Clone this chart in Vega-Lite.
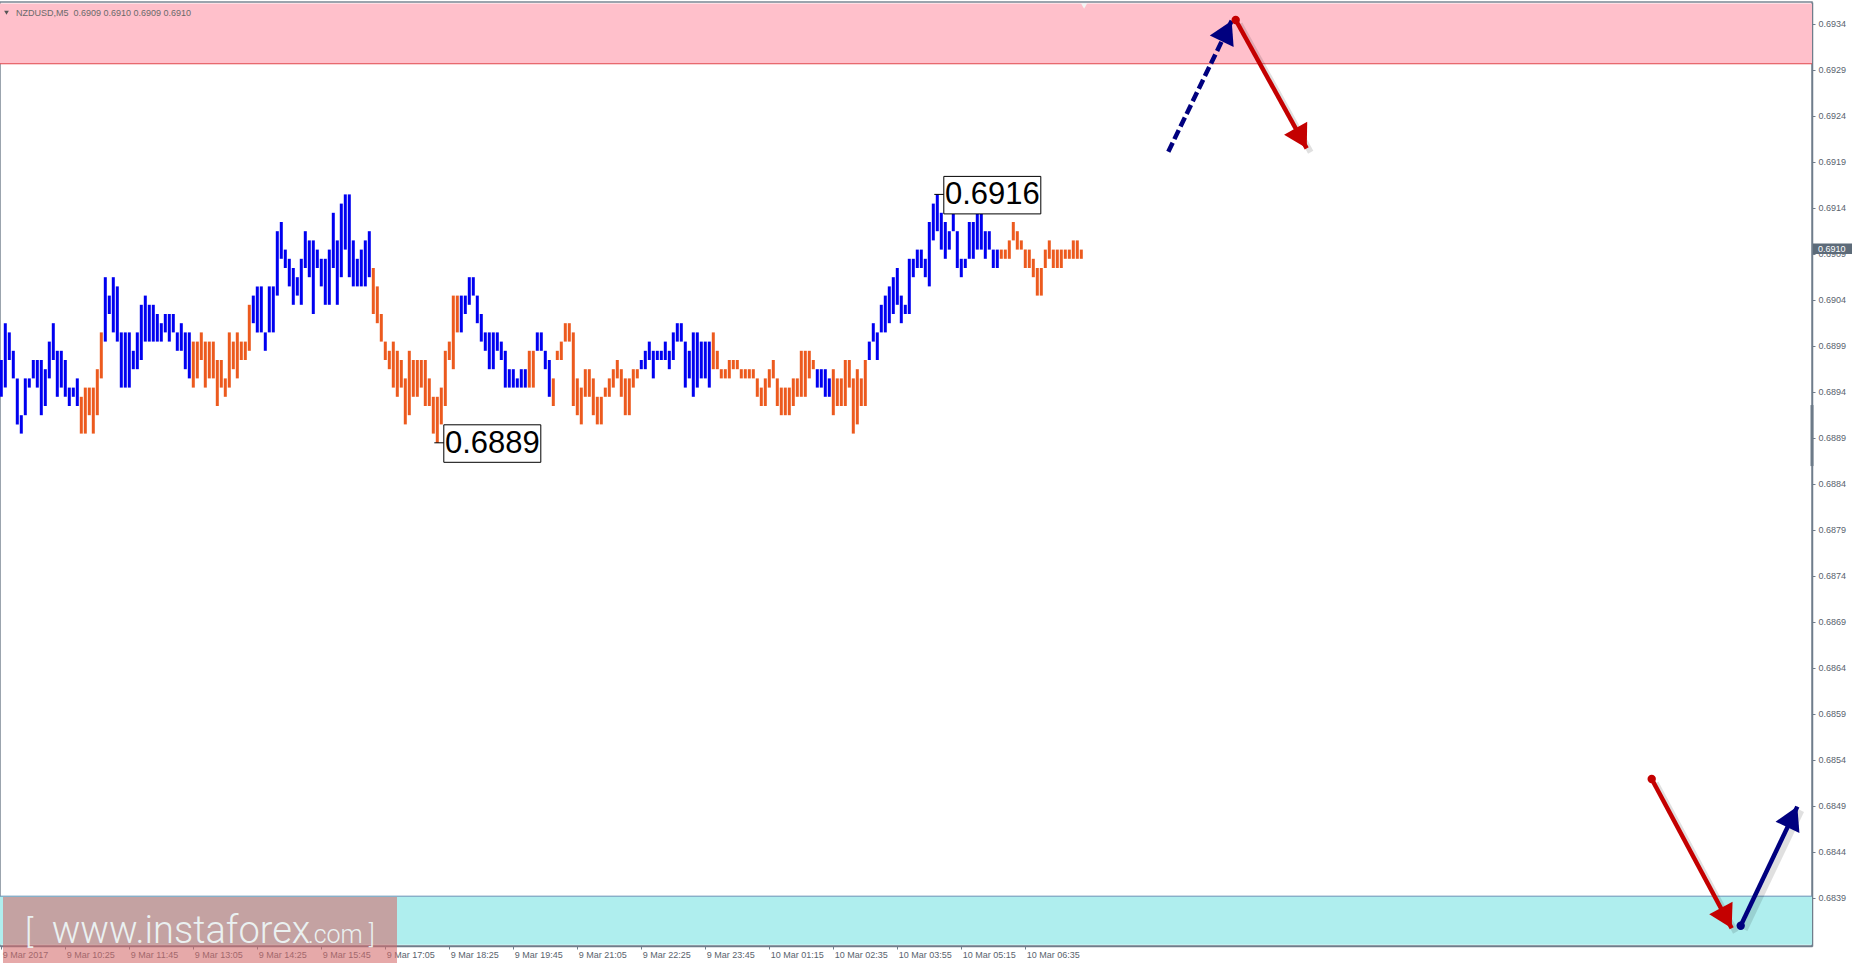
{
  "$schema": "https://vega.github.io/schema/vega-lite/v6.json",
  "width": 1812,
  "height": 944,
  "autosize": "none",
  "padding": {"left": 0, "top": 2, "right": 42, "bottom": 20},
  "background": "#ffffff",
  "config": {"view": {"stroke": "#7b8794", "strokeWidth": 1.5}, "font": "Liberation Sans", "scale": {"continuousPadding": 0}},
  "datasets": {
    "zones": [
      {"zone": "resistance", "lo": 0.69302, "hi": 0.693675},
      {"zone": "support", "lo": 0.683445, "hi": 0.683972}
    ],
    "bars": [
      {"i":0,"lo":0.6894,"hi":0.6898,"trend":"up"},
      {"i":1,"lo":0.6895,"hi":0.6902,"trend":"up"},
      {"i":2,"lo":0.6898,"hi":0.6901,"trend":"up"},
      {"i":3,"lo":0.6896,"hi":0.6899,"trend":"up"},
      {"i":4,"lo":0.6891,"hi":0.6896,"trend":"up"},
      {"i":5,"lo":0.6890,"hi":0.6892,"trend":"up"},
      {"i":6,"lo":0.6892,"hi":0.6896,"trend":"up"},
      {"i":7,"lo":0.6895,"hi":0.6896,"trend":"up"},
      {"i":8,"lo":0.6896,"hi":0.6898,"trend":"up"},
      {"i":9,"lo":0.6895,"hi":0.6898,"trend":"up"},
      {"i":10,"lo":0.6892,"hi":0.6898,"trend":"up"},
      {"i":11,"lo":0.6893,"hi":0.6897,"trend":"up"},
      {"i":12,"lo":0.6896,"hi":0.6900,"trend":"up"},
      {"i":13,"lo":0.6898,"hi":0.6902,"trend":"up"},
      {"i":14,"lo":0.6894,"hi":0.6899,"trend":"up"},
      {"i":15,"lo":0.6895,"hi":0.6899,"trend":"up"},
      {"i":16,"lo":0.6894,"hi":0.6898,"trend":"up"},
      {"i":17,"lo":0.6893,"hi":0.6895,"trend":"up"},
      {"i":18,"lo":0.6894,"hi":0.6895,"trend":"up"},
      {"i":19,"lo":0.6893,"hi":0.6896,"trend":"up"},
      {"i":20,"lo":0.6890,"hi":0.6894,"trend":"dn"},
      {"i":21,"lo":0.6890,"hi":0.6895,"trend":"dn"},
      {"i":22,"lo":0.6892,"hi":0.6895,"trend":"dn"},
      {"i":23,"lo":0.6890,"hi":0.6895,"trend":"dn"},
      {"i":24,"lo":0.6892,"hi":0.6897,"trend":"dn"},
      {"i":25,"lo":0.6896,"hi":0.6901,"trend":"dn"},
      {"i":26,"lo":0.6900,"hi":0.6907,"trend":"up"},
      {"i":27,"lo":0.6903,"hi":0.6905,"trend":"up"},
      {"i":28,"lo":0.6901,"hi":0.6907,"trend":"up"},
      {"i":29,"lo":0.6900,"hi":0.6906,"trend":"up"},
      {"i":30,"lo":0.6895,"hi":0.6901,"trend":"up"},
      {"i":31,"lo":0.6895,"hi":0.6901,"trend":"up"},
      {"i":32,"lo":0.6895,"hi":0.6901,"trend":"up"},
      {"i":33,"lo":0.6897,"hi":0.6899,"trend":"up"},
      {"i":34,"lo":0.6897,"hi":0.6901,"trend":"up"},
      {"i":35,"lo":0.6898,"hi":0.6904,"trend":"up"},
      {"i":36,"lo":0.6900,"hi":0.6905,"trend":"up"},
      {"i":37,"lo":0.6900,"hi":0.6904,"trend":"up"},
      {"i":38,"lo":0.6900,"hi":0.6904,"trend":"up"},
      {"i":39,"lo":0.6900,"hi":0.6903,"trend":"up"},
      {"i":40,"lo":0.6900,"hi":0.6902,"trend":"up"},
      {"i":41,"lo":0.6901,"hi":0.6903,"trend":"up"},
      {"i":42,"lo":0.6900,"hi":0.6903,"trend":"up"},
      {"i":43,"lo":0.6901,"hi":0.6903,"trend":"up"},
      {"i":44,"lo":0.6899,"hi":0.6901,"trend":"up"},
      {"i":45,"lo":0.6899,"hi":0.6902,"trend":"up"},
      {"i":46,"lo":0.6897,"hi":0.6901,"trend":"up"},
      {"i":47,"lo":0.6896,"hi":0.6901,"trend":"up"},
      {"i":48,"lo":0.6895,"hi":0.6900,"trend":"dn"},
      {"i":49,"lo":0.6896,"hi":0.6900,"trend":"dn"},
      {"i":50,"lo":0.6898,"hi":0.6901,"trend":"dn"},
      {"i":51,"lo":0.6895,"hi":0.6900,"trend":"dn"},
      {"i":52,"lo":0.6896,"hi":0.6900,"trend":"dn"},
      {"i":53,"lo":0.6896,"hi":0.6900,"trend":"dn"},
      {"i":54,"lo":0.6893,"hi":0.6898,"trend":"dn"},
      {"i":55,"lo":0.6895,"hi":0.6898,"trend":"dn"},
      {"i":56,"lo":0.6894,"hi":0.6896,"trend":"dn"},
      {"i":57,"lo":0.6895,"hi":0.6901,"trend":"dn"},
      {"i":58,"lo":0.6897,"hi":0.6900,"trend":"dn"},
      {"i":59,"lo":0.6896,"hi":0.6901,"trend":"dn"},
      {"i":60,"lo":0.6898,"hi":0.6900,"trend":"dn"},
      {"i":61,"lo":0.6898,"hi":0.6900,"trend":"dn"},
      {"i":62,"lo":0.6899,"hi":0.6904,"trend":"dn"},
      {"i":63,"lo":0.6902,"hi":0.6905,"trend":"up"},
      {"i":64,"lo":0.6901,"hi":0.6906,"trend":"up"},
      {"i":65,"lo":0.6901,"hi":0.6906,"trend":"up"},
      {"i":66,"lo":0.6899,"hi":0.6901,"trend":"up"},
      {"i":67,"lo":0.6901,"hi":0.6906,"trend":"up"},
      {"i":68,"lo":0.6901,"hi":0.6906,"trend":"up"},
      {"i":69,"lo":0.6905,"hi":0.6912,"trend":"up"},
      {"i":70,"lo":0.6909,"hi":0.6913,"trend":"up"},
      {"i":71,"lo":0.6908,"hi":0.6910,"trend":"up"},
      {"i":72,"lo":0.6906,"hi":0.6909,"trend":"up"},
      {"i":73,"lo":0.6904,"hi":0.6908,"trend":"up"},
      {"i":74,"lo":0.6905,"hi":0.6907,"trend":"up"},
      {"i":75,"lo":0.6904,"hi":0.6909,"trend":"up"},
      {"i":76,"lo":0.6908,"hi":0.6912,"trend":"up"},
      {"i":77,"lo":0.6907,"hi":0.6911,"trend":"up"},
      {"i":78,"lo":0.6903,"hi":0.6911,"trend":"up"},
      {"i":79,"lo":0.6908,"hi":0.6910,"trend":"up"},
      {"i":80,"lo":0.6906,"hi":0.6909,"trend":"up"},
      {"i":81,"lo":0.6904,"hi":0.6909,"trend":"up"},
      {"i":82,"lo":0.6904,"hi":0.6910,"trend":"up"},
      {"i":83,"lo":0.6908,"hi":0.6914,"trend":"up"},
      {"i":84,"lo":0.6904,"hi":0.6911,"trend":"up"},
      {"i":85,"lo":0.6907,"hi":0.6915,"trend":"up"},
      {"i":86,"lo":0.6910,"hi":0.6916,"trend":"up"},
      {"i":87,"lo":0.6907,"hi":0.6916,"trend":"up"},
      {"i":88,"lo":0.6906,"hi":0.6911,"trend":"up"},
      {"i":89,"lo":0.6906,"hi":0.6909,"trend":"up"},
      {"i":90,"lo":0.6906,"hi":0.6910,"trend":"up"},
      {"i":91,"lo":0.6906,"hi":0.6911,"trend":"up"},
      {"i":92,"lo":0.6907,"hi":0.6912,"trend":"up"},
      {"i":93,"lo":0.6903,"hi":0.6908,"trend":"dn"},
      {"i":94,"lo":0.6902,"hi":0.6906,"trend":"dn"},
      {"i":95,"lo":0.6900,"hi":0.6903,"trend":"dn"},
      {"i":96,"lo":0.6898,"hi":0.6900,"trend":"dn"},
      {"i":97,"lo":0.6897,"hi":0.6899,"trend":"dn"},
      {"i":98,"lo":0.6895,"hi":0.6900,"trend":"dn"},
      {"i":99,"lo":0.6894,"hi":0.6899,"trend":"dn"},
      {"i":100,"lo":0.6895,"hi":0.6898,"trend":"dn"},
      {"i":101,"lo":0.6891,"hi":0.6896,"trend":"dn"},
      {"i":102,"lo":0.6892,"hi":0.6899,"trend":"dn"},
      {"i":103,"lo":0.6894,"hi":0.6898,"trend":"dn"},
      {"i":104,"lo":0.6894,"hi":0.6898,"trend":"dn"},
      {"i":105,"lo":0.6895,"hi":0.6898,"trend":"dn"},
      {"i":106,"lo":0.6893,"hi":0.6898,"trend":"dn"},
      {"i":107,"lo":0.6893,"hi":0.6896,"trend":"dn"},
      {"i":108,"lo":0.6890,"hi":0.6894,"trend":"dn"},
      {"i":109,"lo":0.6889,"hi":0.6894,"trend":"dn"},
      {"i":110,"lo":0.6891,"hi":0.6895,"trend":"dn"},
      {"i":111,"lo":0.6893,"hi":0.6899,"trend":"dn"},
      {"i":112,"lo":0.6898,"hi":0.6900,"trend":"dn"},
      {"i":113,"lo":0.6897,"hi":0.6905,"trend":"dn"},
      {"i":114,"lo":0.6901,"hi":0.6905,"trend":"dn"},
      {"i":115,"lo":0.6901,"hi":0.6905,"trend":"up"},
      {"i":116,"lo":0.6903,"hi":0.6905,"trend":"up"},
      {"i":117,"lo":0.6904,"hi":0.6907,"trend":"up"},
      {"i":118,"lo":0.6905,"hi":0.6907,"trend":"up"},
      {"i":119,"lo":0.6902,"hi":0.6905,"trend":"up"},
      {"i":120,"lo":0.6900,"hi":0.6903,"trend":"up"},
      {"i":121,"lo":0.6899,"hi":0.6901,"trend":"up"},
      {"i":122,"lo":0.6897,"hi":0.6901,"trend":"up"},
      {"i":123,"lo":0.6897,"hi":0.6901,"trend":"up"},
      {"i":124,"lo":0.6899,"hi":0.6901,"trend":"up"},
      {"i":125,"lo":0.6898,"hi":0.6900,"trend":"up"},
      {"i":126,"lo":0.6895,"hi":0.6899,"trend":"up"},
      {"i":127,"lo":0.6895,"hi":0.6897,"trend":"up"},
      {"i":128,"lo":0.6895,"hi":0.6897,"trend":"up"},
      {"i":129,"lo":0.6895,"hi":0.6896,"trend":"up"},
      {"i":130,"lo":0.6895,"hi":0.6897,"trend":"up"},
      {"i":131,"lo":0.6895,"hi":0.6897,"trend":"up"},
      {"i":132,"lo":0.6895,"hi":0.6899,"trend":"dn"},
      {"i":133,"lo":0.6895,"hi":0.6899,"trend":"dn"},
      {"i":134,"lo":0.6899,"hi":0.6901,"trend":"up"},
      {"i":135,"lo":0.6899,"hi":0.6901,"trend":"up"},
      {"i":136,"lo":0.6897,"hi":0.6899,"trend":"up"},
      {"i":137,"lo":0.6894,"hi":0.6898,"trend":"up"},
      {"i":138,"lo":0.6893,"hi":0.6896,"trend":"dn"},
      {"i":139,"lo":0.6898,"hi":0.6899,"trend":"dn"},
      {"i":140,"lo":0.6898,"hi":0.6900,"trend":"dn"},
      {"i":141,"lo":0.6900,"hi":0.6902,"trend":"dn"},
      {"i":142,"lo":0.6900,"hi":0.6902,"trend":"dn"},
      {"i":143,"lo":0.6893,"hi":0.6901,"trend":"dn"},
      {"i":144,"lo":0.6892,"hi":0.6896,"trend":"dn"},
      {"i":145,"lo":0.6891,"hi":0.6895,"trend":"dn"},
      {"i":146,"lo":0.6894,"hi":0.6897,"trend":"dn"},
      {"i":147,"lo":0.6894,"hi":0.6897,"trend":"dn"},
      {"i":148,"lo":0.6892,"hi":0.6896,"trend":"dn"},
      {"i":149,"lo":0.6891,"hi":0.6894,"trend":"dn"},
      {"i":150,"lo":0.6891,"hi":0.6894,"trend":"dn"},
      {"i":151,"lo":0.6894,"hi":0.6895,"trend":"dn"},
      {"i":152,"lo":0.6894,"hi":0.6896,"trend":"dn"},
      {"i":153,"lo":0.6895,"hi":0.6897,"trend":"dn"},
      {"i":154,"lo":0.6896,"hi":0.6898,"trend":"dn"},
      {"i":155,"lo":0.6894,"hi":0.6897,"trend":"dn"},
      {"i":156,"lo":0.6892,"hi":0.6896,"trend":"dn"},
      {"i":157,"lo":0.6892,"hi":0.6896,"trend":"dn"},
      {"i":158,"lo":0.6895,"hi":0.6897,"trend":"dn"},
      {"i":159,"lo":0.6896,"hi":0.6897,"trend":"dn"},
      {"i":160,"lo":0.6897,"hi":0.6898,"trend":"up"},
      {"i":161,"lo":0.6897,"hi":0.6899,"trend":"up"},
      {"i":162,"lo":0.6898,"hi":0.6900,"trend":"up"},
      {"i":163,"lo":0.6896,"hi":0.6899,"trend":"up"},
      {"i":164,"lo":0.6898,"hi":0.6899,"trend":"up"},
      {"i":165,"lo":0.6898,"hi":0.6899,"trend":"up"},
      {"i":166,"lo":0.6898,"hi":0.6900,"trend":"up"},
      {"i":167,"lo":0.6897,"hi":0.6899,"trend":"up"},
      {"i":168,"lo":0.6898,"hi":0.6901,"trend":"up"},
      {"i":169,"lo":0.6900,"hi":0.6902,"trend":"up"},
      {"i":170,"lo":0.6900,"hi":0.6902,"trend":"up"},
      {"i":171,"lo":0.6895,"hi":0.6900,"trend":"up"},
      {"i":172,"lo":0.6896,"hi":0.6899,"trend":"up"},
      {"i":173,"lo":0.6894,"hi":0.6901,"trend":"up"},
      {"i":174,"lo":0.6895,"hi":0.6901,"trend":"up"},
      {"i":175,"lo":0.6896,"hi":0.6900,"trend":"up"},
      {"i":176,"lo":0.6896,"hi":0.6900,"trend":"up"},
      {"i":177,"lo":0.6895,"hi":0.6900,"trend":"up"},
      {"i":178,"lo":0.6897,"hi":0.6901,"trend":"dn"},
      {"i":179,"lo":0.6897,"hi":0.6899,"trend":"dn"},
      {"i":180,"lo":0.6896,"hi":0.6897,"trend":"dn"},
      {"i":181,"lo":0.6896,"hi":0.6897,"trend":"dn"},
      {"i":182,"lo":0.6896,"hi":0.6898,"trend":"dn"},
      {"i":183,"lo":0.6897,"hi":0.6898,"trend":"dn"},
      {"i":184,"lo":0.6897,"hi":0.6898,"trend":"dn"},
      {"i":185,"lo":0.6896,"hi":0.6897,"trend":"dn"},
      {"i":186,"lo":0.6896,"hi":0.6897,"trend":"dn"},
      {"i":187,"lo":0.6896,"hi":0.6897,"trend":"dn"},
      {"i":188,"lo":0.6896,"hi":0.6897,"trend":"dn"},
      {"i":189,"lo":0.6894,"hi":0.6896,"trend":"dn"},
      {"i":190,"lo":0.6893,"hi":0.6895,"trend":"dn"},
      {"i":191,"lo":0.6893,"hi":0.6896,"trend":"dn"},
      {"i":192,"lo":0.6895,"hi":0.6897,"trend":"dn"},
      {"i":193,"lo":0.6896,"hi":0.6898,"trend":"dn"},
      {"i":194,"lo":0.6893,"hi":0.6896,"trend":"dn"},
      {"i":195,"lo":0.6892,"hi":0.6895,"trend":"dn"},
      {"i":196,"lo":0.6892,"hi":0.6895,"trend":"dn"},
      {"i":197,"lo":0.6892,"hi":0.6895,"trend":"dn"},
      {"i":198,"lo":0.6893,"hi":0.6896,"trend":"dn"},
      {"i":199,"lo":0.6894,"hi":0.6896,"trend":"dn"},
      {"i":200,"lo":0.6894,"hi":0.6899,"trend":"dn"},
      {"i":201,"lo":0.6894,"hi":0.6899,"trend":"dn"},
      {"i":202,"lo":0.6896,"hi":0.6899,"trend":"dn"},
      {"i":203,"lo":0.6897,"hi":0.6898,"trend":"dn"},
      {"i":204,"lo":0.6895,"hi":0.6897,"trend":"up"},
      {"i":205,"lo":0.6895,"hi":0.6897,"trend":"up"},
      {"i":206,"lo":0.6894,"hi":0.6897,"trend":"up"},
      {"i":207,"lo":0.6894,"hi":0.6896,"trend":"up"},
      {"i":208,"lo":0.6892,"hi":0.6897,"trend":"dn"},
      {"i":209,"lo":0.6893,"hi":0.6896,"trend":"dn"},
      {"i":210,"lo":0.6893,"hi":0.6896,"trend":"dn"},
      {"i":211,"lo":0.6893,"hi":0.6898,"trend":"dn"},
      {"i":212,"lo":0.6895,"hi":0.6898,"trend":"dn"},
      {"i":213,"lo":0.6890,"hi":0.6896,"trend":"dn"},
      {"i":214,"lo":0.6891,"hi":0.6897,"trend":"dn"},
      {"i":215,"lo":0.6893,"hi":0.6896,"trend":"dn"},
      {"i":216,"lo":0.6893,"hi":0.6898,"trend":"dn"},
      {"i":217,"lo":0.6898,"hi":0.6900,"trend":"up"},
      {"i":218,"lo":0.6900,"hi":0.6902,"trend":"up"},
      {"i":219,"lo":0.6898,"hi":0.6901,"trend":"up"},
      {"i":220,"lo":0.6901,"hi":0.6904,"trend":"up"},
      {"i":221,"lo":0.6901,"hi":0.6905,"trend":"up"},
      {"i":222,"lo":0.6902,"hi":0.6906,"trend":"up"},
      {"i":223,"lo":0.6903,"hi":0.6907,"trend":"up"},
      {"i":224,"lo":0.6904,"hi":0.6908,"trend":"up"},
      {"i":225,"lo":0.6902,"hi":0.6905,"trend":"up"},
      {"i":226,"lo":0.6903,"hi":0.6904,"trend":"up"},
      {"i":227,"lo":0.6903,"hi":0.6909,"trend":"up"},
      {"i":228,"lo":0.6907,"hi":0.6909,"trend":"up"},
      {"i":229,"lo":0.6908,"hi":0.6910,"trend":"up"},
      {"i":230,"lo":0.6908,"hi":0.6910,"trend":"up"},
      {"i":231,"lo":0.6907,"hi":0.6909,"trend":"up"},
      {"i":232,"lo":0.6906,"hi":0.6913,"trend":"up"},
      {"i":233,"lo":0.6911,"hi":0.6915,"trend":"up"},
      {"i":234,"lo":0.6912,"hi":0.6916,"trend":"up"},
      {"i":235,"lo":0.6910,"hi":0.6914,"trend":"up"},
      {"i":236,"lo":0.6909,"hi":0.6913,"trend":"up"},
      {"i":237,"lo":0.6910,"hi":0.6912,"trend":"up"},
      {"i":238,"lo":0.6912,"hi":0.6914,"trend":"up"},
      {"i":239,"lo":0.6908,"hi":0.6912,"trend":"up"},
      {"i":240,"lo":0.6907,"hi":0.6909,"trend":"up"},
      {"i":241,"lo":0.6908,"hi":0.6909,"trend":"up"},
      {"i":242,"lo":0.6909,"hi":0.6913,"trend":"up"},
      {"i":243,"lo":0.6909,"hi":0.6913,"trend":"up"},
      {"i":244,"lo":0.6910,"hi":0.6914,"trend":"up"},
      {"i":245,"lo":0.6910,"hi":0.6914,"trend":"up"},
      {"i":246,"lo":0.6909,"hi":0.6912,"trend":"up"},
      {"i":247,"lo":0.6910,"hi":0.6912,"trend":"up"},
      {"i":248,"lo":0.6908,"hi":0.6910,"trend":"up"},
      {"i":249,"lo":0.6908,"hi":0.6910,"trend":"up"},
      {"i":250,"lo":0.6909,"hi":0.6910,"trend":"dn"},
      {"i":251,"lo":0.6909,"hi":0.6910,"trend":"dn"},
      {"i":252,"lo":0.6909,"hi":0.6911,"trend":"dn"},
      {"i":253,"lo":0.6911,"hi":0.6913,"trend":"dn"},
      {"i":254,"lo":0.6910,"hi":0.6912,"trend":"dn"},
      {"i":255,"lo":0.6910,"hi":0.6911,"trend":"dn"},
      {"i":256,"lo":0.6908,"hi":0.6910,"trend":"dn"},
      {"i":257,"lo":0.6908,"hi":0.6910,"trend":"dn"},
      {"i":258,"lo":0.6907,"hi":0.6909,"trend":"dn"},
      {"i":259,"lo":0.6905,"hi":0.6908,"trend":"dn"},
      {"i":260,"lo":0.6905,"hi":0.6908,"trend":"dn"},
      {"i":261,"lo":0.6908,"hi":0.6910,"trend":"dn"},
      {"i":262,"lo":0.6909,"hi":0.6911,"trend":"dn"},
      {"i":263,"lo":0.6908,"hi":0.6910,"trend":"dn"},
      {"i":264,"lo":0.6908,"hi":0.6910,"trend":"dn"},
      {"i":265,"lo":0.6908,"hi":0.6910,"trend":"dn"},
      {"i":266,"lo":0.6909,"hi":0.6910,"trend":"dn"},
      {"i":267,"lo":0.6909,"hi":0.6910,"trend":"dn"},
      {"i":268,"lo":0.6909,"hi":0.6911,"trend":"dn"},
      {"i":269,"lo":0.6909,"hi":0.6911,"trend":"dn"},
      {"i":270,"lo":0.6909,"hi":0.6910,"trend":"dn"}
    ],
    "arrows": [
      {"arrow": "A", "pt": "start", "i": 291.75, "p": 0.692064},
      {"arrow": "A", "pt": "tip", "i": 307.6, "p": 0.693488},
      {"arrow": "B", "pt": "start", "i": 308.6, "p": 0.693496},
      {"arrow": "B", "pt": "tip", "i": 326.35, "p": 0.692101},
      {"arrow": "C", "pt": "start", "i": 412.6, "p": 0.685246},
      {"arrow": "C", "pt": "tip", "i": 432.6, "p": 0.683623},
      {"arrow": "D", "pt": "start", "i": 434.85, "p": 0.683651},
      {"arrow": "D", "pt": "tip", "i": 449.0, "p": 0.684945}
    ],
    "notes": [
      {"label": "0.6916", "i": 234, "p": 0.6916},
      {"label": "0.6889", "i": 109, "p": 0.6889}
    ]
  },
  "layer": [
    {
      "data": {"name": "zones"},
      "transform": [{"filter": "datum.zone === 'resistance'"}],
      "mark": {"type": "rect", "color": "#ffc0cb"},
      "encoding": {
        "x": {"datum": -0.325, "type": "quantitative", "scale": {"domain": [-0.325, 452.675], "nice": false, "zero": false, "padding": 0},
          "axis": {"title": null, "orient": "bottom", "values": [0,16,32,48,64,80,96,112,128,144,160,176,192,208,224,240,256],
            "labelExpr": "['9 Mar 2017','9 Mar 10:25','9 Mar 11:45','9 Mar 13:05','9 Mar 14:25','9 Mar 15:45','9 Mar 17:05','9 Mar 18:25','9 Mar 19:45','9 Mar 21:05','9 Mar 22:25','9 Mar 23:45','10 Mar 01:15','10 Mar 02:35','10 Mar 03:55','10 Mar 05:15','10 Mar 06:35'][round(datum.value/16)]",
            "domain": true, "domainColor": "#6f7d8b", "domainWidth": 1.5, "ticks": true, "tickSize": 3, "tickColor": "#6f7d8b",
            "labelAlign": "left", "labelBaseline": "top", "labelPadding": 1, "labelOffset": 1, "labelFontSize": 9, "labelFont": "Liberation Sans",
            "labelColor": "#59636e", "grid": false, "labelOverlap": false, "labelBound": false, "labelFlush": false, "zindex": 0}},
        "x2": {"datum": 452.675},
        "y": {"field": "lo", "type": "quantitative", "scale": {"domain": [0.6834304, 0.6936913], "nice": false, "zero": false, "padding": 0},
          "axis": {"title": null, "orient": "right",
            "values": [0.6839,0.6844,0.6849,0.6854,0.6859,0.6864,0.6869,0.6874,0.6879,0.6884,0.6889,0.6894,0.6899,0.6904,0.6909,0.6914,0.6919,0.6924,0.6929,0.6934],
            "format": ".4f", "domain": true, "domainColor": "#6f7d8b", "domainWidth": 1.5, "ticks": true, "tickSize": 3, "tickColor": "#6f7d8b",
            "tickOffset": -5, "labelPadding": 3, "labelFontSize": 9, "labelFont": "Liberation Sans", "labelColor": "#59636e",
            "labelAlign": "left", "labelBaseline": "middle", "grid": false, "labelOverlap": false, "labelBound": false, "labelFlush": false, "zindex": 0}},
        "y2": {"field": "hi"}
      }
    },
    {
      "data": {"name": "zones"},
      "transform": [{"filter": "datum.zone === 'support'"}],
      "mark": {"type": "rect", "color": "#afeeee"},
      "encoding": {
        "x": {"datum": -0.325, "type": "quantitative", "scale": {"domain": [-0.325, 452.675], "nice": false, "zero": false, "padding": 0}, "title": null},
        "x2": {"datum": 452.675},
        "y": {"field": "lo", "type": "quantitative", "scale": {"domain": [0.6834304, 0.6936913], "nice": false, "zero": false, "padding": 0}, "title": null},
        "y2": {"field": "hi"}
      }
    },
    {
      "data": {"name": "zones"},
      "transform": [{"filter": "datum.zone === 'resistance'"}],
      "mark": {"type": "rule", "color": "#e0474c", "strokeWidth": 1},
      "encoding": {
        "x": {"datum": -0.325, "type": "quantitative", "scale": {"domain": [-0.325, 452.675], "nice": false, "zero": false, "padding": 0}, "title": null},
        "x2": {"datum": 452.675},
        "y": {"field": "lo", "type": "quantitative", "scale": {"domain": [0.6834304, 0.6936913], "nice": false, "zero": false, "padding": 0}, "title": null}
      }
    },
    {
      "data": {"name": "zones"},
      "transform": [{"filter": "datum.zone === 'support'"}],
      "mark": {"type": "rule", "color": "#6a90b6", "strokeWidth": 1},
      "encoding": {
        "x": {"datum": -0.325, "type": "quantitative", "scale": {"domain": [-0.325, 452.675], "nice": false, "zero": false, "padding": 0}, "title": null},
        "x2": {"datum": 452.675},
        "y": {"field": "hi", "type": "quantitative", "scale": {"domain": [0.6834304, 0.6936913], "nice": false, "zero": false, "padding": 0}, "title": null}
      }
    },
    {
      "data": {"name": "bars"},
      "transform": [{"filter": "datum.trend === 'up'"}],
      "mark": {"type": "bar", "width": 3, "color": "#0000f0"},
      "encoding": {
        "x": {"field": "i", "type": "quantitative", "scale": {"domain": [-0.325, 452.675], "nice": false, "zero": false, "padding": 0}, "title": null},
        "y": {"field": "lo", "type": "quantitative", "scale": {"domain": [0.6834304, 0.6936913], "nice": false, "zero": false, "padding": 0}, "title": null},
        "y2": {"field": "hi"}
      }
    },
    {
      "data": {"name": "bars"},
      "transform": [{"filter": "datum.trend === 'dn'"}],
      "mark": {"type": "bar", "width": 3, "color": "#ec5a1e"},
      "encoding": {
        "x": {"field": "i", "type": "quantitative", "scale": {"domain": [-0.325, 452.675], "nice": false, "zero": false, "padding": 0}, "title": null},
        "y": {"field": "lo", "type": "quantitative", "scale": {"domain": [0.6834304, 0.6936913], "nice": false, "zero": false, "padding": 0}, "title": null},
        "y2": {"field": "hi"}
      }
    },
    {
      "data": {"values": [{}]},
      "mark": {"type": "rule", "color": "#6c7a88", "strokeWidth": 3},
      "encoding": {
        "x": {"datum": 452.675, "type": "quantitative", "scale": {"domain": [-0.325, 452.675], "nice": false, "zero": false, "padding": 0}, "title": null},
        "y": {"datum": 0.688647, "type": "quantitative", "scale": {"domain": [0.6834304, 0.6936913], "nice": false, "zero": false, "padding": 0}, "title": null},
        "y2": {"datum": 0.68931}
      }
    },
    {
      "data": {"name": "bars"},
      "transform": [{"filter": "datum.i === 270"}],
      "mark": {"type": "rect", "color": "#5d6b79", "xOffset": 1, "x2Offset": 40, "yOffset": -6, "y2Offset": 4.5},
      "encoding": {
        "x": {"datum": 452.675, "type": "quantitative", "scale": {"domain": [-0.325, 452.675], "nice": false, "zero": false, "padding": 0}, "title": null},
        "x2": {"datum": 452.675},
        "y": {"field": "hi", "type": "quantitative", "scale": {"domain": [0.6834304, 0.6936913], "nice": false, "zero": false, "padding": 0}, "title": null},
        "y2": {"field": "hi"}
      }
    },
    {
      "data": {"name": "bars"},
      "transform": [{"filter": "datum.i === 270"}],
      "mark": {"type": "text", "color": "#ffffff", "align": "left", "baseline": "middle", "fontSize": 9, "dx": 6, "dy": -1, "font": "Liberation Sans"},
      "encoding": {
        "x": {"datum": 452.675, "type": "quantitative", "scale": {"domain": [-0.325, 452.675], "nice": false, "zero": false, "padding": 0}, "title": null},
        "y": {"field": "hi", "type": "quantitative", "scale": {"domain": [0.6834304, 0.6936913], "nice": false, "zero": false, "padding": 0}, "title": null},
        "text": {"field": "hi", "type": "quantitative", "format": ".4f"}
      }
    },
    {
      "data": {"name": "arrows"},
      "transform": [{"filter": "datum.arrow !== 'A'"}],
      "mark": {"type": "line", "color": "#000000", "opacity": 0.12, "strokeWidth": 6, "xOffset": 4, "yOffset": 4},
      "encoding": {
        "x": {"field": "i", "type": "quantitative", "scale": {"domain": [-0.325, 452.675], "nice": false, "zero": false, "padding": 0}, "title": null},
        "y": {"field": "p", "type": "quantitative", "scale": {"domain": [0.6834304, 0.6936913], "nice": false, "zero": false, "padding": 0}, "title": null},
        "detail": {"field": "arrow"}
      }
    },
    {
      "data": {"name": "arrows"},
      "transform": [{"filter": "datum.arrow === 'A'"}],
      "mark": {"type": "line", "color": "#00007f", "strokeWidth": 4.5, "strokeDash": [10, 4], "strokeCap": "butt"},
      "encoding": {
        "x": {"field": "i", "type": "quantitative", "scale": {"domain": [-0.325, 452.675], "nice": false, "zero": false, "padding": 0}, "title": null},
        "y": {"field": "p", "type": "quantitative", "scale": {"domain": [0.6834304, 0.6936913], "nice": false, "zero": false, "padding": 0}, "title": null}
      }
    },
    {
      "data": {"name": "arrows"},
      "transform": [{"filter": "datum.arrow === 'B' || datum.arrow === 'C'"}],
      "mark": {"type": "line", "color": "#c40000", "strokeWidth": 4.5},
      "encoding": {
        "x": {"field": "i", "type": "quantitative", "scale": {"domain": [-0.325, 452.675], "nice": false, "zero": false, "padding": 0}, "title": null},
        "y": {"field": "p", "type": "quantitative", "scale": {"domain": [0.6834304, 0.6936913], "nice": false, "zero": false, "padding": 0}, "title": null},
        "detail": {"field": "arrow"}
      }
    },
    {
      "data": {"name": "arrows"},
      "transform": [{"filter": "datum.arrow === 'D'"}],
      "mark": {"type": "line", "color": "#00007f", "strokeWidth": 4.5},
      "encoding": {
        "x": {"field": "i", "type": "quantitative", "scale": {"domain": [-0.325, 452.675], "nice": false, "zero": false, "padding": 0}, "title": null},
        "y": {"field": "p", "type": "quantitative", "scale": {"domain": [0.6834304, 0.6936913], "nice": false, "zero": false, "padding": 0}, "title": null}
      }
    },
    {
      "data": {"name": "arrows"},
      "transform": [{"filter": "datum.arrow === 'A' && datum.pt === 'tip'"}],
      "mark": {"type": "point", "shape": "triangle-up", "filled": true, "opacity": 1, "size": 700, "angle": 25.8, "color": "#00007f", "xOffset": -5, "yOffset": 10.3},
      "encoding": {
        "x": {"field": "i", "type": "quantitative", "scale": {"domain": [-0.325, 452.675], "nice": false, "zero": false, "padding": 0}, "title": null},
        "y": {"field": "p", "type": "quantitative", "scale": {"domain": [0.6834304, 0.6936913], "nice": false, "zero": false, "padding": 0}, "title": null}
      }
    },
    {
      "data": {"name": "arrows"},
      "transform": [{"filter": "datum.arrow === 'B' && datum.pt === 'tip'"}],
      "mark": {"type": "point", "shape": "triangle-up", "filled": true, "opacity": 1, "size": 700, "angle": 151, "color": "#c40000", "xOffset": -5.5, "yOffset": -10},
      "encoding": {
        "x": {"field": "i", "type": "quantitative", "scale": {"domain": [-0.325, 452.675], "nice": false, "zero": false, "padding": 0}, "title": null},
        "y": {"field": "p", "type": "quantitative", "scale": {"domain": [0.6834304, 0.6936913], "nice": false, "zero": false, "padding": 0}, "title": null}
      }
    },
    {
      "data": {"name": "arrows"},
      "transform": [{"filter": "datum.arrow === 'C' && datum.pt === 'tip'"}],
      "mark": {"type": "point", "shape": "triangle-up", "filled": true, "opacity": 1, "size": 700, "angle": 151.8, "color": "#c40000", "xOffset": -5.4, "yOffset": -10.1},
      "encoding": {
        "x": {"field": "i", "type": "quantitative", "scale": {"domain": [-0.325, 452.675], "nice": false, "zero": false, "padding": 0}, "title": null},
        "y": {"field": "p", "type": "quantitative", "scale": {"domain": [0.6834304, 0.6936913], "nice": false, "zero": false, "padding": 0}, "title": null}
      }
    },
    {
      "data": {"name": "arrows"},
      "transform": [{"filter": "datum.arrow === 'D' && datum.pt === 'tip'"}],
      "mark": {"type": "point", "shape": "triangle-up", "filled": true, "opacity": 1, "size": 700, "angle": 25.4, "color": "#00007f", "xOffset": -4.9, "yOffset": 10.3},
      "encoding": {
        "x": {"field": "i", "type": "quantitative", "scale": {"domain": [-0.325, 452.675], "nice": false, "zero": false, "padding": 0}, "title": null},
        "y": {"field": "p", "type": "quantitative", "scale": {"domain": [0.6834304, 0.6936913], "nice": false, "zero": false, "padding": 0}, "title": null}
      }
    },
    {
      "data": {"name": "arrows"},
      "transform": [{"filter": "datum.pt === 'start' && (datum.arrow === 'B' || datum.arrow === 'C')"}],
      "mark": {"type": "point", "shape": "circle", "filled": true, "opacity": 1, "size": 70, "color": "#c40000"},
      "encoding": {
        "x": {"field": "i", "type": "quantitative", "scale": {"domain": [-0.325, 452.675], "nice": false, "zero": false, "padding": 0}, "title": null},
        "y": {"field": "p", "type": "quantitative", "scale": {"domain": [0.6834304, 0.6936913], "nice": false, "zero": false, "padding": 0}, "title": null}
      }
    },
    {
      "data": {"name": "arrows"},
      "transform": [{"filter": "datum.pt === 'start' && datum.arrow === 'D'"}],
      "mark": {"type": "point", "shape": "circle", "filled": true, "opacity": 1, "size": 70, "color": "#00007f"},
      "encoding": {
        "x": {"field": "i", "type": "quantitative", "scale": {"domain": [-0.325, 452.675], "nice": false, "zero": false, "padding": 0}, "title": null},
        "y": {"field": "p", "type": "quantitative", "scale": {"domain": [0.6834304, 0.6936913], "nice": false, "zero": false, "padding": 0}, "title": null}
      }
    },
    {
      "data": {"name": "notes"},
      "mark": {"type": "rule", "color": "#000000", "strokeWidth": 1, "xOffset": -3, "x2Offset": 7},
      "encoding": {
        "x": {"field": "i", "type": "quantitative", "scale": {"domain": [-0.325, 452.675], "nice": false, "zero": false, "padding": 0}, "title": null},
        "x2": {"field": "i"},
        "y": {"field": "p", "type": "quantitative", "scale": {"domain": [0.6834304, 0.6936913], "nice": false, "zero": false, "padding": 0}, "title": null}
      }
    },
    {
      "data": {"name": "notes"},
      "mark": {"type": "rect", "fill": "#ffffff", "stroke": "#000000", "strokeWidth": 1, "xOffset": 6.5, "x2Offset": 103.5, "yOffset": -18, "y2Offset": 19.5},
      "encoding": {
        "x": {"field": "i", "type": "quantitative", "scale": {"domain": [-0.325, 452.675], "nice": false, "zero": false, "padding": 0}, "title": null},
        "x2": {"field": "i"},
        "y": {"field": "p", "type": "quantitative", "scale": {"domain": [0.6834304, 0.6936913], "nice": false, "zero": false, "padding": 0}, "title": null},
        "y2": {"field": "p"}
      }
    },
    {
      "data": {"name": "notes"},
      "mark": {"type": "text", "color": "#000000", "align": "center", "baseline": "middle", "fontSize": 31, "dx": 55, "dy": 1, "font": "Liberation Sans"},
      "encoding": {
        "x": {"field": "i", "type": "quantitative", "scale": {"domain": [-0.325, 452.675], "nice": false, "zero": false, "padding": 0}, "title": null},
        "y": {"field": "p", "type": "quantitative", "scale": {"domain": [0.6834304, 0.6936913], "nice": false, "zero": false, "padding": 0}, "title": null},
        "text": {"field": "label"}
      }
    },
    {
      "data": {"values": [{}]},
      "mark": {"type": "rect", "color": "#d46a6a", "opacity": 0.58},
      "encoding": {
        "x": {"datum": 0.425, "type": "quantitative", "scale": {"domain": [-0.325, 452.675], "nice": false, "zero": false, "padding": 0}, "title": null},
        "x2": {"datum": 98.925},
        "y": {"datum": 0.683963, "type": "quantitative", "scale": {"domain": [0.6834304, 0.6936913], "nice": false, "zero": false, "padding": 0}, "title": null},
        "y2": {"datum": 0.683246}
      }
    },
    {
      "data": {"values": [{}]},
      "mark": {"type": "text", "color": "#eef8f8", "align": "left", "baseline": "alphabetic", "fontSize": 34, "fontWeight": 300, "font": "Roboto", "opacity": 0.92},
      "encoding": {
        "x": {"datum": 5.925, "type": "quantitative", "scale": {"domain": [-0.325, 452.675], "nice": false, "zero": false, "padding": 0}, "title": null},
        "y": {"datum": 0.683466, "type": "quantitative", "scale": {"domain": [0.6834304, 0.6936913], "nice": false, "zero": false, "padding": 0}, "title": null},
        "text": {"value": "["}
      }
    },
    {
      "data": {"values": [{}]},
      "mark": {"type": "text", "color": "#eef8f8", "align": "left", "baseline": "alphabetic", "fontSize": 38, "fontWeight": 300, "font": "Roboto", "opacity": 0.92},
      "encoding": {
        "x": {"datum": 12.6, "type": "quantitative", "scale": {"domain": [-0.325, 452.675], "nice": false, "zero": false, "padding": 0}, "title": null},
        "y": {"datum": 0.683466, "type": "quantitative", "scale": {"domain": [0.6834304, 0.6936913], "nice": false, "zero": false, "padding": 0}, "title": null},
        "text": {"value": "www.instaforex"}
      }
    },
    {
      "data": {"values": [{}]},
      "mark": {"type": "text", "color": "#eef8f8", "align": "left", "baseline": "alphabetic", "fontSize": 25, "fontWeight": 300, "font": "Roboto", "opacity": 0.92},
      "encoding": {
        "x": {"datum": 76.6, "type": "quantitative", "scale": {"domain": [-0.325, 452.675], "nice": false, "zero": false, "padding": 0}, "title": null},
        "y": {"datum": 0.683466, "type": "quantitative", "scale": {"domain": [0.6834304, 0.6936913], "nice": false, "zero": false, "padding": 0}, "title": null},
        "text": {"value": ".com ]"}
      }
    },
    {
      "data": {"values": [{}]},
      "mark": {"type": "point", "shape": "triangle-down", "filled": true, "opacity": 1, "size": 22, "color": "#555555"},
      "encoding": {
        "x": {"datum": 1.3, "type": "quantitative", "scale": {"domain": [-0.325, 452.675], "nice": false, "zero": false, "padding": 0}, "title": null},
        "y": {"datum": 0.693575, "type": "quantitative", "scale": {"domain": [0.6834304, 0.6936913], "nice": false, "zero": false, "padding": 0}, "title": null}
      }
    },
    {
      "data": {"values": [{}]},
      "mark": {"type": "text", "color": "#6a6a6a", "align": "left", "baseline": "middle", "fontSize": 9, "font": "Liberation Sans"},
      "encoding": {
        "x": {"datum": 3.675, "type": "quantitative", "scale": {"domain": [-0.325, 452.675], "nice": false, "zero": false, "padding": 0}, "title": null},
        "y": {"datum": 0.693575, "type": "quantitative", "scale": {"domain": [0.6834304, 0.6936913], "nice": false, "zero": false, "padding": 0}, "title": null},
        "text": {"value": "NZDUSD,M5\u00a0\u00a00.6909 0.6910 0.6909 0.6910"}
      }
    },
    {
      "data": {"values": [{}]},
      "mark": {"type": "point", "shape": "triangle-down", "filled": true, "opacity": 1, "size": 40, "color": "#f4f4f4"},
      "encoding": {
        "x": {"datum": 270.7, "type": "quantitative", "scale": {"domain": [-0.325, 452.675], "nice": false, "zero": false, "padding": 0}, "title": null},
        "y": {"datum": 0.693648, "type": "quantitative", "scale": {"domain": [0.6834304, 0.6936913], "nice": false, "zero": false, "padding": 0}, "title": null}
      }
    }
  ]
}
